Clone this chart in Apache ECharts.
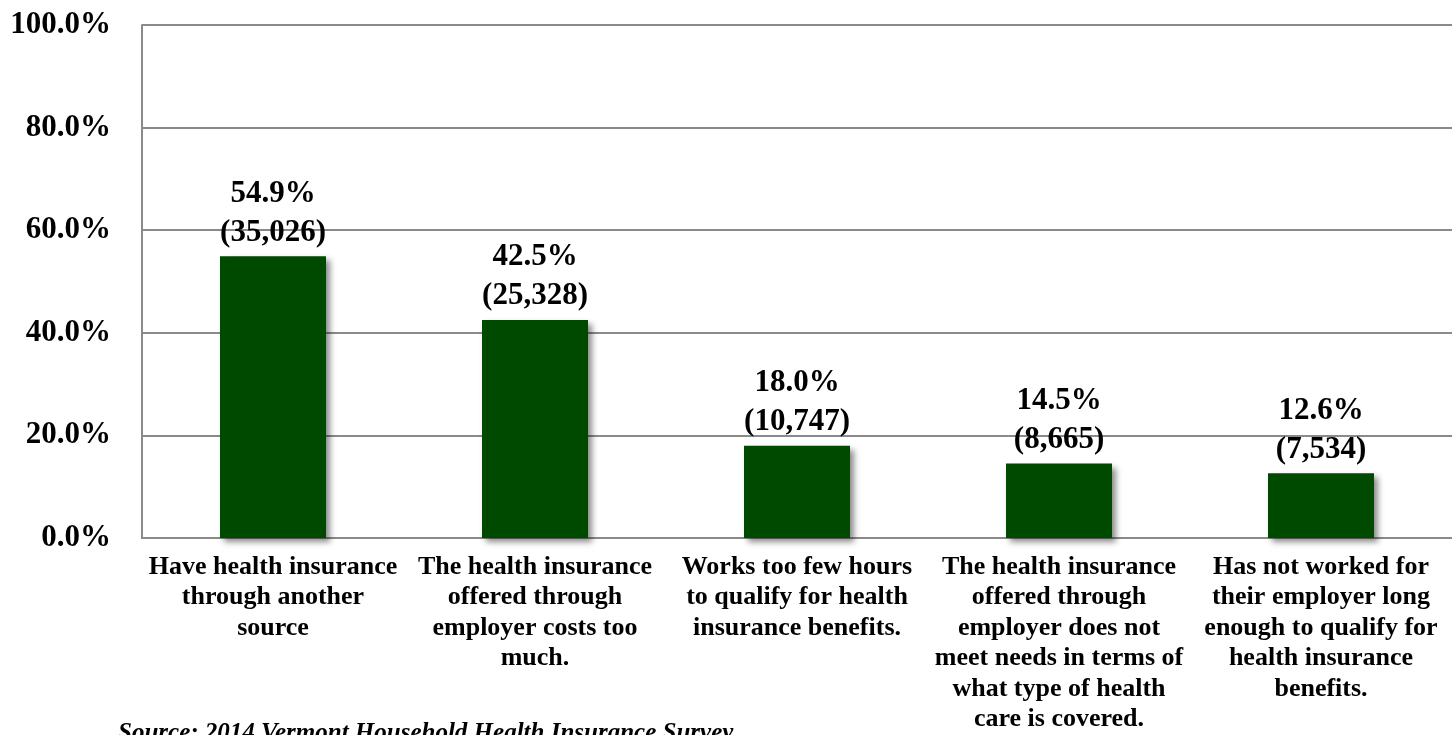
<!DOCTYPE html>
<html>
<head>
<meta charset="utf-8">
<script src="https://cdn.jsdelivr.net/npm/echarts@6/dist/echarts.min.js"></script>
<style>
html,body{margin:0;padding:0;background:#fff;}
#c{width:1452px;height:735px;}
</style>
</head>
<body>
<div id="c"></div>
<script>
const categories = [
  "Have health insurance\nthrough another\nsource",
  "The health insurance\noffered through\nemployer costs too\nmuch.",
  "Works too few hours\nto qualify for health\ninsurance benefits.",
  "The health insurance\noffered through\nemployer does not\nmeet needs in terms of\nwhat type of health\ncare is covered.",
  "Has not worked for\ntheir employer long\nenough to qualify for\nhealth insurance\nbenefits."
];
const percents = [54.9, 42.5, 18.0, 14.5, 12.6];
const counts = ["35,026", "25,328", "10,747", "8,665", "7,534"];
const yTicks = [0, 20, 40, 60, 80, 100];
const sourceText = "Source: 2014 Vermont Household Health Insurance Survey";

const serif = '"Liberation Serif", "Times New Roman", serif';
const chart = echarts.init(document.getElementById('c'));
chart.setOption({
  animation: false,
  backgroundColor: '#fff',
  grid: {left: 142, right: 0, top: 25, bottom: 197, containLabel: false},
  graphic: [{
    type: 'text', left: 118, top: 721,
    style: {text: sourceText, font: 'italic bold 25px ' + serif, fill: '#000'}
  }],
  xAxis: {
    type: 'category',
    data: categories,
    axisLine: {show: true, lineStyle: {color: '#8a8a8a', width: 2}},
    axisTick: {show: false},
    axisLabel: {
      interval: 0, margin: 14,
      fontFamily: serif, fontWeight: 'bold', fontSize: 26, lineHeight: 30.5, color: '#000', align: 'center'
    }
  },
  yAxis: {
    type: 'value', min: 0, max: 100, interval: 20,
    axisLine: {show: true, lineStyle: {color: '#8a8a8a', width: 2}},
    axisTick: {show: false},
    splitLine: {show: true, lineStyle: {color: '#8a8a8a', width: 2}},
    axisLabel: {
      margin: 31,
      fontFamily: serif, fontWeight: 'bold', fontSize: 31, color: '#000',
      formatter: v => yTicks.includes(v) ? v.toFixed(1) + '%' : ''
    }
  },
  series: [{
    type: 'bar',
    data: percents,
    barWidth: 106,
    itemStyle: {
      color: '#004a00',
      shadowColor: 'rgba(0,0,0,0.45)', shadowBlur: 6, shadowOffsetX: 4, shadowOffsetY: 4
    },
    label: {
      show: true, position: 'top', distance: 4,
      fontFamily: serif, fontWeight: 'bold', fontSize: 31, lineHeight: 39, color: '#000', align: 'center',
      formatter: p => p.value.toFixed(1) + '%\n(' + counts[p.dataIndex] + ')'
    }
  }]
});
</script>
</body>
</html>
